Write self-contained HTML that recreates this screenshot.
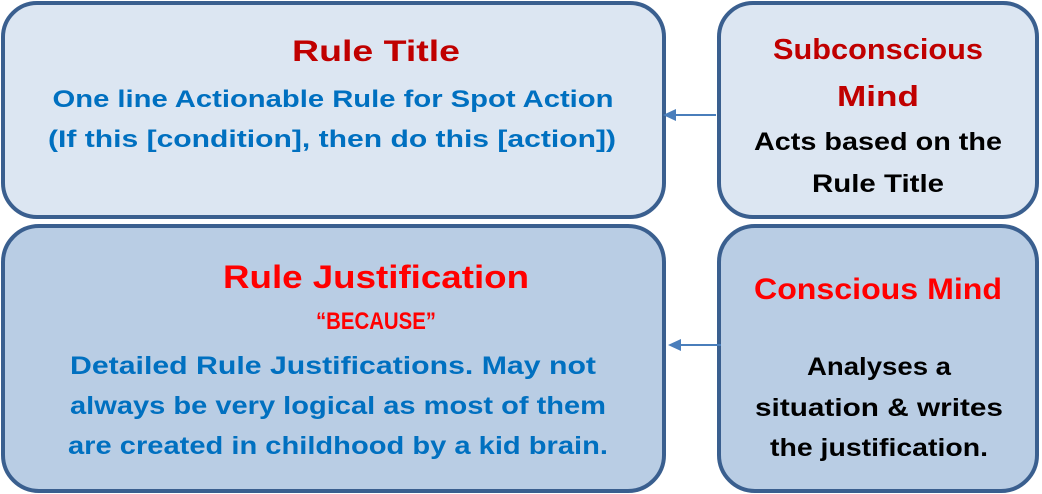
<!DOCTYPE html>
<html><head><meta charset="utf-8"><style>
html,body{margin:0;padding:0;background:#fff;}
svg{display:block;}
text{font-family:"Liberation Sans",sans-serif;font-weight:bold;text-anchor:middle;}
</style></head><body>
<svg width="1042" height="494" viewBox="0 0 1042 494" xmlns="http://www.w3.org/2000/svg">
<rect x="3" y="3" width="661" height="214" rx="34" fill="#dce6f2" stroke="#3a5f8f" stroke-width="4"/>
<rect x="719" y="3" width="318" height="214" rx="34" fill="#dce6f2" stroke="#3a5f8f" stroke-width="4"/>
<rect x="3" y="226" width="661" height="265" rx="36" fill="#b9cde4" stroke="#3a5f8f" stroke-width="4"/>
<rect x="719" y="226" width="318" height="265" rx="36" fill="#b9cde4" stroke="#3a5f8f" stroke-width="4"/>
<line x1="716" y1="115" x2="672" y2="115" stroke="#4a7ebb" stroke-width="2"/>
<polygon points="663,115 676,109 676,121" fill="#4a7ebb"/>
<line x1="721" y1="345" x2="678" y2="345" stroke="#4a7ebb" stroke-width="2"/>
<polygon points="668,345 681,339 681,351" fill="#4a7ebb"/>

<text x="376" y="61" font-size="30" fill="#c00000" textLength="168" lengthAdjust="spacingAndGlyphs">Rule Title</text>
<text x="333" y="107" font-size="24" fill="#0070c0" textLength="561" lengthAdjust="spacingAndGlyphs">One line Actionable Rule for Spot Action</text>
<text x="332" y="147" font-size="24" fill="#0070c0" textLength="568" lengthAdjust="spacingAndGlyphs">(If this [condition],  then do this [action])</text>

<text x="878" y="59" font-size="29" fill="#c00000" textLength="210" lengthAdjust="spacingAndGlyphs">Subconscious</text>
<text x="878" y="106" font-size="29" fill="#c00000" textLength="82" lengthAdjust="spacingAndGlyphs">Mind</text>
<text x="878" y="150" font-size="25" fill="#000" textLength="248" lengthAdjust="spacingAndGlyphs">Acts based on the</text>
<text x="878" y="192" font-size="25" fill="#000" textLength="132" lengthAdjust="spacingAndGlyphs">Rule Title</text>

<text x="376" y="288" font-size="32" fill="#ff0000" textLength="306" lengthAdjust="spacingAndGlyphs">Rule Justification</text>
<text x="376" y="329" font-size="24" fill="#ff0000" textLength="120" lengthAdjust="spacingAndGlyphs">“BECAUSE”</text>
<text x="333" y="374" font-size="25" fill="#0070c0" textLength="526" lengthAdjust="spacingAndGlyphs">Detailed Rule Justifications. May not</text>
<text x="338" y="414" font-size="25" fill="#0070c0" textLength="536" lengthAdjust="spacingAndGlyphs">always be very logical as most of them</text>
<text x="338" y="454" font-size="25" fill="#0070c0" textLength="540" lengthAdjust="spacingAndGlyphs">are created in childhood by a kid brain.</text>

<text x="878" y="299" font-size="30" fill="#ff0000" textLength="248" lengthAdjust="spacingAndGlyphs">Conscious  Mind</text>
<text x="879" y="375" font-size="25" fill="#000" textLength="144" lengthAdjust="spacingAndGlyphs">Analyses a</text>
<text x="879" y="416" font-size="25" fill="#000" textLength="248" lengthAdjust="spacingAndGlyphs">situation &amp; writes</text>
<text x="879" y="456" font-size="25" fill="#000" textLength="218" lengthAdjust="spacingAndGlyphs">the justification.</text>
</svg>
</body></html>
